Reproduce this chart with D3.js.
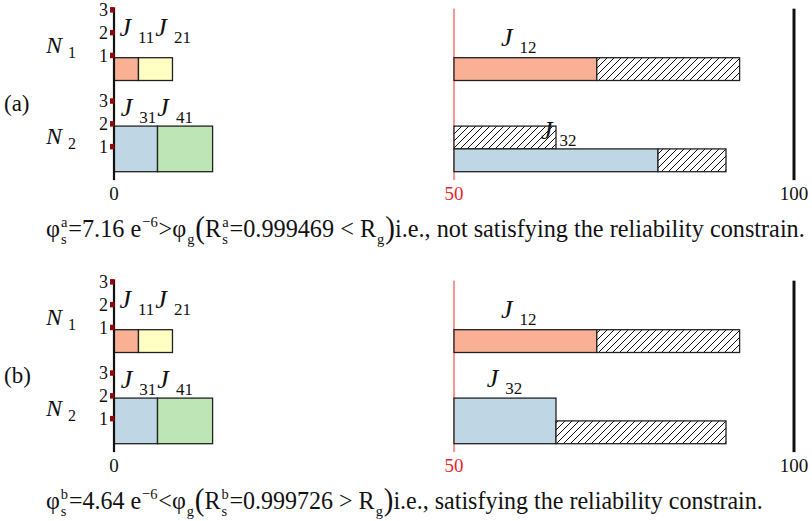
<!DOCTYPE html>
<html><head><meta charset="utf-8">
<script src="https://cdn.jsdelivr.net/npm/d3@7"></script>
<style>
body{margin:0;background:#fff}
svg{display:block}
</style>
</head><body>
<svg id="chart" width="812" height="521" font-family="'Liberation Serif', 'Times New Roman', Times, serif"></svg>
<script>
// ---------------- data ----------------
const panelNames = ["(a)", "(b)"];
const nodes = ["N1", "N2"];
const nodeLevelTicks = [1, 2, 3];
const xTickValues = [0, 50, 100];
const releaseTime = 50;
const deadlineTime = 100;

// segments: [job, node, start, end, levelFrom, levelTo]  ("backup" = hatched)
const segmentsA = [
  ["J11", "N1", 0, 3.6, 0, 1], ["J21", "N1", 3.6, 8.6, 0, 1],
  ["J31", "N2", 0, 6.4, 0, 2], ["J41", "N2", 6.4, 14.5, 0, 2],
  ["J12", "N1", 50, 71, 0, 1], ["backup", "N1", 71, 92, 0, 1],
  ["backup", "N2", 50, 65, 1, 2],
  ["J32", "N2", 50, 80, 0, 1], ["backup", "N2", 80, 90, 0, 1]
];
const segmentsB = [
  ["J11", "N1", 0, 3.6, 0, 1], ["J21", "N1", 3.6, 8.6, 0, 1],
  ["J31", "N2", 0, 6.4, 0, 2], ["J41", "N2", 6.4, 14.5, 0, 2],
  ["J12", "N1", 50, 71, 0, 1], ["backup", "N1", 71, 92, 0, 1],
  ["J32", "N2", 50, 65, 0, 2], ["backup", "N2", 65, 90, 0, 1]
];

// job labels: [list of job subscripts, node, x value, level]
const labelsA = [
  [["11", "21"], "N1", 0.8, 1.95], [["31", "41"], "N2", 1.0, 2.45],
  [["12"], "N1", 56.9, 1.5], [["32"], "N2", 62.8, 1.45]
];
const labelsB = [
  [["11", "21"], "N1", 0.8, 1.95], [["31", "41"], "N2", 1.0, 2.45],
  [["12"], "N1", 56.9, 1.5], [["32"], "N2", 54.8, 2.5]
];

const captionA = [{t:"φ"},{sub:"s",sup:"a"},{t:"=7.16 e"},{sup:"−6"},{t:" >φ"},{sub:"g"},{t:"(",big:1},{t:"R"},{sub:"s",sup:"a"},{t:"=0.999469 < R"},{sub:"g"},{t:")",big:1},{t:"i.e., not satisfying the reliability constrain."}];
const captionB = [{t:"φ"},{sub:"s",sup:"b"},{t:"=4.64 e"},{sup:"−6"},{t:" <φ"},{sub:"g"},{t:"(",big:1},{t:"R"},{sub:"s",sup:"b"},{t:"=0.999726 > R"},{sub:"g"},{t:")",big:1},{t:"i.e., satisfying the reliability constrain."}];

const jobColors = {"1": "#fab094", "2": "#ffffc4", "3": "#bfd6e5", "4": "#bde5b5"};

// ---------------- layout ----------------
const FONT = "'Liberation Serif', 'Times New Roman', Times, serif";
const svg = d3.select("#chart");
const panelOffset = [0, 272];
const captionWidth = [759, 717];
const x = d3.scaleLinear().domain([0, 100]).range([114, 794]);
const y = d3.scaleLinear().domain([0, 7]).range([171.7, 12.1]);
const nodeBase = n => (nodes.length - 1 - nodes.indexOf(n)) * 4;

const defs = svg.append("defs");
const pat = defs.append("pattern").attr("id", "hatch").attr("patternUnits", "userSpaceOnUse")
  .attr("width", 7).attr("height", 7);
pat.append("rect").attr("width", 7).attr("height", 7).attr("fill", "#fff");
pat.append("path").attr("d", "M-1,1 l2,-2 M0,7 l7,-7 M6,8 l2,-2").attr("stroke", "#111").attr("stroke-width", 1);

function txt(g) { return g.append("text").attr("font-family", FONT).attr("fill", "#111"); }

function drawMath(g, pieces, size) {
  let cx = 0;
  pieces.forEach(p => {
    if (p.t !== undefined) {
      const el = txt(g).attr("x", cx).attr("y", p.big ? size * 0.05 : 0)
        .attr("font-size", (p.big ? size * 1.2 : size)).text(p.t);
      cx += el.node().getComputedTextLength();
    } else {
      let w = 0;
      const s = size * 0.6;
      if (p.sub) {
        const e = txt(g).attr("x", cx + 1).attr("y", size * 0.28).attr("font-size", s).text(p.sub);
        w = Math.max(w, e.node().getComputedTextLength());
      }
      if (p.sup) {
        const e = txt(g).attr("x", cx + 1).attr("y", -size * 0.4).attr("font-size", s).text(p.sup);
        w = Math.max(w, e.node().getComputedTextLength());
      }
      cx += w + 2;
    }
  });
  return cx;
}

function jobLabel(g, px, py, subs) {
  const t = txt(g).attr("x", px).attr("y", py);
  subs.forEach((s, i) => {
    t.append("tspan").attr("dy", i === 0 ? 0 : -7).attr("dx", i === 0 ? 0 : 1)
      .attr("font-size", 26).attr("font-style", "italic").text("J");
    t.append("tspan").attr("dx", 7).attr("dy", 7).attr("font-size", 17).text(s);
  });
}

[segmentsA, segmentsB].forEach((segs, pi) => {
  const g = svg.append("g").attr("transform", `translate(0,${panelOffset[pi]})`);
  const labels = [labelsA, labelsB][pi];

  // panel label
  txt(g).attr("x", 4).attr("y", y(2.68)).attr("font-size", 23).text(panelNames[pi]);

  // reference lines
  g.append("line").attr("x1", x(releaseTime)).attr("x2", x(releaseTime))
    .attr("y1", y(7.15)).attr("y2", y(-0.37)).attr("stroke", "#ff2a2a").attr("stroke-width", 1);
  g.append("line").attr("x1", x(deadlineTime)).attr("x2", x(deadlineTime))
    .attr("y1", y(7.15)).attr("y2", y(-0.37)).attr("stroke", "#111").attr("stroke-width", 3);

  // bars
  g.selectAll("rect.seg").data(segs).join("rect").attr("class", "seg")
    .attr("x", d => x(d[2])).attr("width", d => x(d[3]) - x(d[2]))
    .attr("y", d => y(nodeBase(d[1]) + d[5])).attr("height", d => y(nodeBase(d[1]) + d[4]) - y(nodeBase(d[1]) + d[5]))
    .attr("fill", d => d[0] === "backup" ? "url(#hatch)" : jobColors[d[0][1]])
    .attr("stroke", "#222").attr("stroke-width", 1.3);

  // vertical axis
  g.append("line").attr("x1", x(0)).attr("x2", x(0)).attr("y1", y(7.2)).attr("y2", y(-0.37))
    .attr("stroke", "#111").attr("stroke-width", 2.2);

  nodes.forEach(n => {
    const b = nodeBase(n);
    nodeLevelTicks.forEach(t => {
      g.append("rect").attr("x", x(0) - 4).attr("y", y(b + t) - 5).attr("width", 4.5).attr("height", 5.5).attr("fill", "#8b0a0a");
      txt(g).attr("x", x(0) - 6).attr("y", y(b + t) + 4).attr("text-anchor", "end")
        .attr("font-size", 18).text(t);
    });
    const lt = txt(g).attr("x", 46).attr("y", y(b + 1.2));
    lt.append("tspan").attr("font-size", 24).attr("font-style", "italic").text("N");
    lt.append("tspan").attr("dx", 6).attr("dy", 5).attr("font-size", 16).text(n.slice(1));
  });

  // job labels
  labels.forEach(l => jobLabel(g, x(l[2]), y(nodeBase(l[1]) + l[3]), l[0]));

  // x tick labels
  xTickValues.forEach(v => {
    txt(g).attr("x", x(v)).attr("y", 200).attr("text-anchor", "middle")
      .attr("font-size", 19).attr("fill", v === releaseTime ? "#e8262a" : "#111").text(v);
  });

  // caption
  const cg = g.append("g");
  const w = drawMath(cg, [captionA, captionB][pi], 26);
  cg.attr("transform", `translate(46,237) scale(${captionWidth[pi] / w},1)`);
});
</script>
</body></html>
